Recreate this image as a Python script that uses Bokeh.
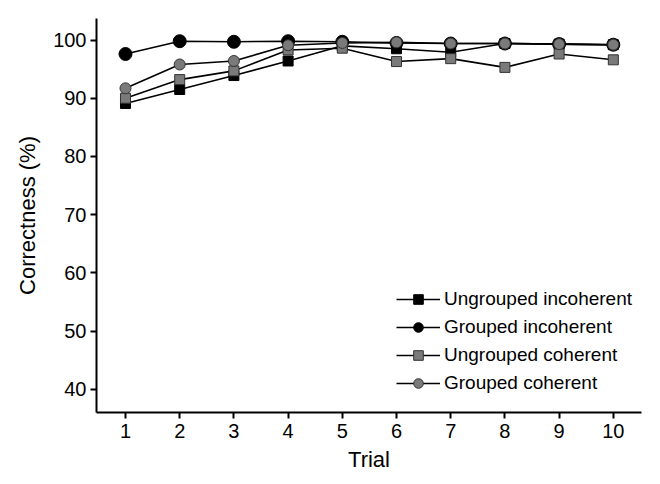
from bokeh.plotting import figure
from bokeh.models import Legend, LegendItem, FixedTicker, Range1d
from bokeh.embed import file_html
from bokeh.resources import INLINE

trials = [1, 2, 3, 4, 5, 6, 7, 8, 9, 10]
ungrouped_incoherent = [89.1, 91.5, 93.9, 96.4, 99.0, 98.5, 97.9, 99.4, 99.3, 99.2]
grouped_incoherent = [97.6, 99.8, 99.7, 99.8, 99.7, 99.5, 99.4, 99.4, 99.3, 99.2]
ungrouped_coherent = [90.0, 93.2, 94.7, 98.3, 98.6, 96.3, 96.8, 95.3, 97.6, 96.6]
grouped_coherent = [91.7, 95.8, 96.4, 99.1, 99.5, 99.6, 99.4, 99.4, 99.3, 99.2]
y_ticks = [40, 50, 60, 70, 80, 90, 100]
series_names = ["Ungrouped incoherent", "Grouped incoherent",
                "Ungrouped coherent", "Grouped coherent"]

FONT = "Liberation Sans"

p = figure(width=652, height=476, output_backend="svg", toolbar_location=None,
           x_range=Range1d(0.465, 10.52), y_range=Range1d(36.0, 103.7),
           min_border_left=96, min_border_top=18, min_border_right=11,
           min_border_bottom=64)
p.outline_line_color = None
p.xgrid.visible = False
p.ygrid.visible = False
p.background_fill_color = "white"

for ax in (p.xaxis[0], p.yaxis[0]):
    ax.axis_line_width = 2
    ax.axis_line_color = "black"
    ax.major_tick_line_width = 2
    ax.major_tick_out = 6
    ax.major_tick_in = 0
    ax.minor_tick_line_color = None
    ax.major_label_text_font = FONT
    ax.major_label_text_font_size = "20px"
    ax.major_label_text_color = "black"
    ax.axis_label_text_font = FONT
    ax.axis_label_text_font_size = "22px"
    ax.axis_label_text_font_style = "normal"
    ax.axis_label_text_color = "black"

p.xaxis.ticker = FixedTicker(ticks=trials)
p.yaxis.ticker = FixedTicker(ticks=y_ticks)
p.xaxis.axis_label = "Trial"
p.yaxis.axis_label = "Correctness (%)"
p.xaxis.major_label_standoff = 5
p.xaxis.axis_label_standoff = 6
p.yaxis.major_label_standoff = 4
p.yaxis.axis_label_standoff = 10

styles = [
    (ungrouped_incoherent, "square", 10, "black", "black"),
    (grouped_incoherent, "circle", 13, "black", "black"),
    (ungrouped_coherent, "square", 10, "#7a7a7a", "#333333"),
    (grouped_coherent, "circle", 11, "#7a7a7a", "#333333"),
]

items = []
for (vals, marker, size, fill, edge), name in zip(styles, series_names):
    ln = p.line(trials, vals, line_color="black", line_width=1.6)
    sc = p.scatter(trials, vals, marker=marker, size=size, fill_color=fill,
                   line_color=edge, line_width=1)
    items.append(LegendItem(label=name, renderers=[ln, sc]))

legend = Legend(items=items, location=(300, 17), padding=0, margin=0,
                border_line_color=None, background_fill_alpha=0,
                label_text_font=FONT, label_text_font_size="19px",
                label_text_color="black",
                glyph_width=44, glyph_height=24, label_height=24,
                label_standoff=4, spacing=4)
p.add_layout(legend)

open("out.html", "w").write(file_html(p, INLINE))
